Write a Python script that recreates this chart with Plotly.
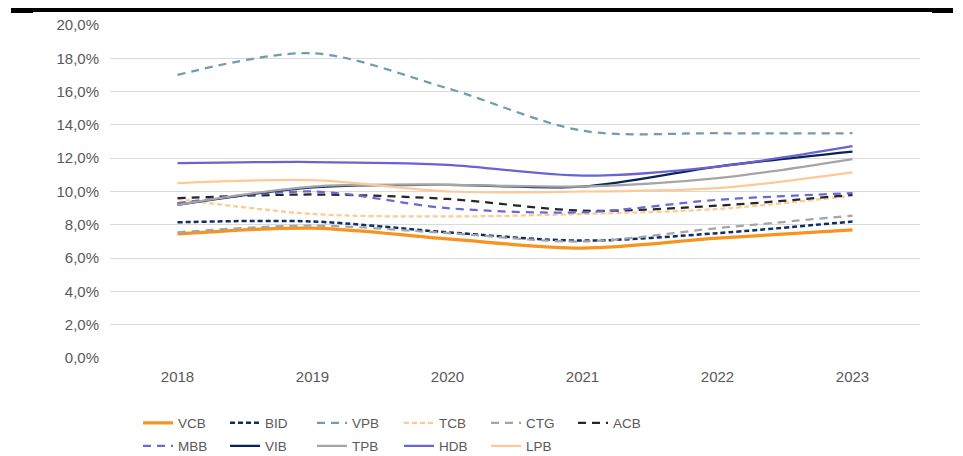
import plotly.graph_objects as go

years = ["2018", "2019", "2020", "2021", "2022", "2023"]
VCB = [7.45, 7.8, 7.15, 6.6, 7.2, 7.7]
BID = [8.15, 8.2, 7.55, 7.05, 7.5, 8.2]
VPB = [17.0, 18.3, 16.2, 13.65, 13.5, 13.5]
TCB = [9.55, 8.65, 8.5, 8.65, 8.95, 9.75]
CTG = [7.55, 7.95, 7.5, 7.0, 7.8, 8.55]
ACB = [9.6, 9.82, 9.55, 8.85, 9.15, 9.8]
MBB = [9.3, 10.0, 9.0, 8.75, 9.5, 9.9]
VIB = [9.2, 10.25, 10.4, 10.3, 11.5, 12.4]
TPB = [9.2, 10.3, 10.4, 10.3, 10.8, 11.95]
HDB = [11.7, 11.77, 11.6, 10.95, 11.5, 12.72]
LPB = [10.5, 10.68, 10.0, 10.0, 10.2, 11.15]

y_ticks = [0, 2, 4, 6, 8, 10, 12, 14, 16, 18, 20]
y_tick_labels = ["0,0%", "2,0%", "4,0%", "6,0%", "8,0%", "10,0%",
                 "12,0%", "14,0%", "16,0%", "18,0%", "20,0%"]

series = [
    ("VCB", VCB, "#F7931E", "solid", 3.25, "legend"),
    ("BID", BID, "#0E2F66", "5px,3px", 2.5, "legend"),
    ("VPB", VPB, "#6E9CB0", "8px,6px", 2.25, "legend"),
    ("TCB", TCB, "#FFC98F", "5px,3px", 2.25, "legend"),
    ("CTG", CTG, "#A5A5A5", "8px,6px", 2.25, "legend"),
    ("ACB", ACB, "#262626", "8px,6px", 2.25, "legend"),
    ("MBB", MBB, "#6A67D6", "8px,6px", 2.25, "legend2"),
    ("VIB", VIB, "#0B2457", "solid", 2.25, "legend2"),
    ("TPB", TPB, "#A5A5A5", "solid", 2.25, "legend2"),
    ("HDB", HDB, "#6B63D3", "solid", 2.25, "legend2"),
    ("LPB", LPB, "#FFC896", "solid", 2.25, "legend2"),
]

fig = go.Figure()
for name, vals, color, dash, width, leg in series:
    fig.add_trace(go.Scatter(
        x=years, y=vals, name=name, mode="lines",
        line=dict(color=color, dash=dash, width=width, shape="spline", smoothing=0.9),
        legend=leg,
    ))

font = dict(family="Liberation Sans, Arial, sans-serif", size=15, color="#595959")
legend_font = dict(family="Liberation Sans, Arial, sans-serif", size=13.5, color="#595959")

# page body has an 8px margin; figure coordinates are offset by it
OFF = 8
W, H = 963 - OFF, 456 - OFF
L, T = 110 - OFF, 25 - OFF
R = W - (920 - OFF)
B = H - (358 - OFF)
pw, ph = W - L - R, H - T - B

def px(x):
    return (x - OFF - L) / pw

def py(y):
    return (H - B - (y - OFF)) / ph

legend_common = dict(
    orientation="h", font=legend_font, bgcolor="rgba(0,0,0,0)",
    entrywidth=42, entrywidthmode="pixels",
    xanchor="left", yanchor="middle", tracegroupgap=0,
    itemwidth=30,
)

fig.update_layout(
    width=W, height=H,
    margin=dict(l=L, r=R, t=T, b=B, autoexpand=False),
    paper_bgcolor="white", plot_bgcolor="white",
    font=font,
    showlegend=True,
    xaxis=dict(
        type="category", range=[-0.5, 5.5], showgrid=False, zeroline=False,
        showline=False, ticks="", tickfont=font, ticklabelstandoff=8,
    ),
    yaxis=dict(
        range=[0, 20], tickvals=y_ticks, ticktext=y_tick_labels,
        showgrid=True, gridcolor="#D9D9D9", gridwidth=1, zeroline=False,
        showline=False, ticks="", tickfont=font, ticklabelstandoff=10,
    ),
    legend=dict(**legend_common, x=px(138), y=py(423)),
    legend2=dict(**legend_common, x=px(138), y=py(446)),
    shapes=[
        dict(type="rect", xref="paper", yref="paper", x0=px(11), x1=px(953),
             y0=py(12), y1=py(8), fillcolor="black", line=dict(width=0)),
        dict(type="rect", xref="paper", yref="paper", x0=px(11), x1=px(33),
             y0=py(13), y1=py(8), fillcolor="black", line=dict(width=0)),
        dict(type="rect", xref="paper", yref="paper", x0=px(932), x1=px(953),
             y0=py(13), y1=py(8), fillcolor="black", line=dict(width=0)),
    ],
)

fig.write_html("out.html")
